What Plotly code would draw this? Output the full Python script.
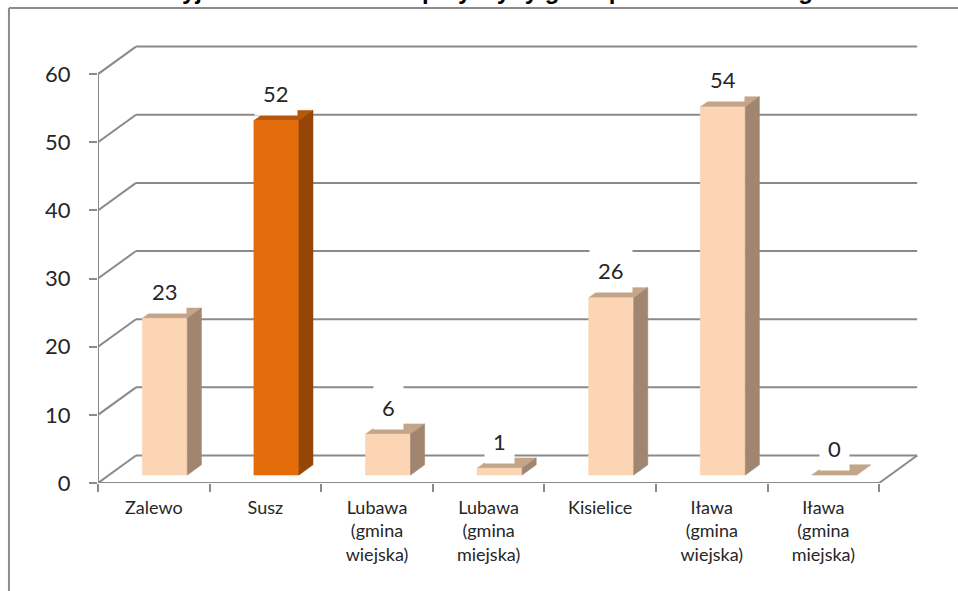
import plotly.graph_objects as go

# ---------------- data ----------------
categories = [
    "Zalewo",
    "Susz",
    "Lubawa<br>(gmina<br>wiejska)",
    "Lubawa<br>(gmina<br>miejska)",
    "Kisielice",
    "Iława<br>(gmina<br>wiejska)",
    "Iława<br>(gmina<br>miejska)",
]
values = [23, 52, 6, 1, 26, 54, 0]
highlighted = ["Susz"]
y_ticks = [0, 10, 20, 30, 40, 50, 60]
title_text = "Liczba wyjazdów na terenie – przyczyny gmin powiatu iławskiego"

# ---------------- styles ----------------
PALETTES = {
    "base": dict(front="#FCD5B5", top="#C4A589", side="#A08671"),
    "accent": dict(front="#E46C0A", top="#B6570A", side="#954607"),
}
GRID = "#8A8A8A"
TEXT = "#262626"
FONT = "Lato"

# oblique 3-D projection, expressed in axis units
DEPTH_X = 0.3405   # horizontal shift of the full depth (category units)
DEPTH_Y = 4.035    # vertical shift of the full depth (value units)
BAR_D0, BAR_D1 = 0.29, 0.66   # bar front / back depth fractions
HALF_W = 0.2017               # half width of bar front face
X_MIN, X_MAX = -0.5, len(categories) - 0.5

fig = go.Figure()


def bar_faces(i, v):
    xl, xr = i - HALF_W, i + HALF_W
    ox0, oy0 = BAR_D0 * DEPTH_X, BAR_D0 * DEPTH_Y
    ox1, oy1 = BAR_D1 * DEPTH_X, BAR_D1 * DEPTH_Y
    f = {}
    f["top"] = ([xl + ox0, xr + ox0, xr + ox1, xl + ox1],
                [oy0 + v, oy0 + v, oy1 + v, oy1 + v])
    if v > 0:
        f["front"] = ([xl + ox0, xr + ox0, xr + ox0, xl + ox0],
                      [oy0, oy0, oy0 + v, oy0 + v])
        f["side"] = ([xr + ox0, xr + ox1, xr + ox1, xr + ox0],
                     [oy0, oy1, oy1 + v, oy0 + v])
    return f


groups = {}
for i, (cat, v) in enumerate(zip(categories, values)):
    pal = "accent" if cat in highlighted else "base"
    for face, (xs, ys) in bar_faces(i, v).items():
        gx, gy = groups.setdefault((pal, face), ([], []))
        gx.extend(xs + [xs[0], None])
        gy.extend(ys + [ys[0], None])

for (pal, face), (gx, gy) in groups.items():
    col = PALETTES[pal][face]
    fig.add_trace(go.Scatter(
        x=gx, y=gy, mode="lines", fill="toself", fillcolor=col,
        line=dict(width=0.6, color=col), hoverinfo="skip", showlegend=False,
    ))

# invisible trace for the boundary-tick axis
fig.add_trace(go.Scatter(x=[X_MIN], y=[0], xaxis="x2", mode="markers",
                         marker=dict(opacity=0), hoverinfo="skip", showlegend=False))

# ---------------- walls / grid ----------------
shapes = []
line = dict(color=GRID, width=2)
for t in y_ticks:
    shapes.append(dict(type="line", xref="x", yref="y", layer="below",
                       x0=X_MIN, y0=t, x1=X_MIN + DEPTH_X, y1=t + DEPTH_Y, line=line))
    shapes.append(dict(type="line", xref="x", yref="y", layer="below",
                       x0=X_MIN + DEPTH_X, y0=t + DEPTH_Y, x1=X_MAX + DEPTH_X, y1=t + DEPTH_Y, line=line))
# front vertical axis
shapes.append(dict(type="line", xref="x", yref="y", layer="below",
                   x0=X_MIN, y0=0, x1=X_MIN, y1=max(y_ticks), line=line))
# floor front edge and right edge
shapes.append(dict(type="line", xref="x", yref="y", layer="below",
                   x0=X_MIN, y0=0, x1=X_MAX, y1=0, line=line))
shapes.append(dict(type="line", xref="x", yref="y", layer="below",
                   x0=X_MAX, y0=0, x1=X_MAX + DEPTH_X, y1=DEPTH_Y, line=line))
# chart-area border (top and left)
shapes.append(dict(type="line", xref="paper", yref="paper",
                   x0=-0.107, y0=1.0722, x1=1.1, y1=1.0722, line=dict(color="#8C8C8C", width=2)))
shapes.append(dict(type="line", xref="paper", yref="paper",
                   x0=-0.107, y0=1.0722, x1=-0.107, y1=-0.3, line=dict(color="#8C8C8C", width=2)))

# ---------------- value labels ----------------
annotations = []
for i, v in enumerate(values):
    annotations.append(dict(
        x=i + BAR_D0 * DEPTH_X, y=v + BAR_D0 * DEPTH_Y, xref="x", yref="y",
        text=str(v), showarrow=False, yshift=27, yanchor="middle",
        font=dict(family=FONT, size=22, color=TEXT),
        bgcolor="white", borderpad=8,
    ))
# title (only its lowest part lies inside the picture, as in the reference)
annotations.append(dict(
    x=(830 - 98) / 832, y=(483 - 6) / 443, xref="paper", yref="paper",
    xanchor="right", yanchor="bottom", showarrow=False,
    text="<b>" + title_text + "</b>",
    font=dict(family="Liberation Sans", size=24, color="black"),
))

x_range = [X_MIN, X_MAX + DEPTH_X + 0.115]
fig.update_layout(
    width=958, height=591,
    margin=dict(l=98, r=28, t=40, b=108),
    paper_bgcolor="white", plot_bgcolor="white",
    shapes=shapes, annotations=annotations,
    xaxis=dict(range=x_range, tickvals=list(range(len(categories))), ticktext=categories,
               ticks="", showgrid=False, zeroline=False, showline=False,
               tickfont=dict(family=FONT, size=18, color=TEXT), ticklabelstandoff=12),
    xaxis2=dict(range=x_range, overlaying="x", anchor="y", side="bottom",
                tickvals=[X_MIN + k for k in range(len(categories) + 1)],
                ticks="outside", ticklen=8, tickwidth=2, tickcolor=GRID,
                showticklabels=False, showgrid=False, zeroline=False, showline=False),
    yaxis=dict(range=[0, 65], tickvals=y_ticks, ticks="outside", ticklen=8, tickwidth=2,
               tickcolor=GRID, showgrid=False, zeroline=False, showline=False,
               tickfont=dict(family=FONT, size=22, color=TEXT), ticklabelstandoff=14),
)

fig.write_html("out.html", config={"displayModeBar": False},
               post_script="document.body.style.margin='0';document.body.style.overflow='hidden';")
